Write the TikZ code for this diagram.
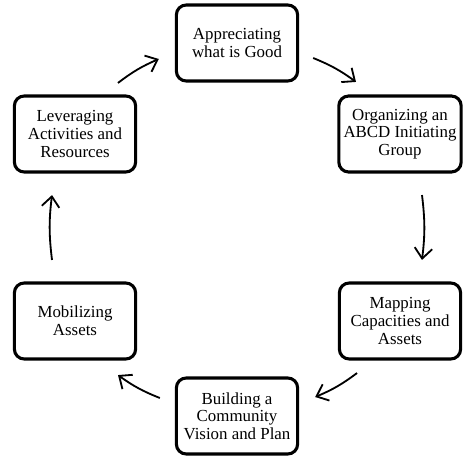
\documentclass[tikz,border=0pt]{standalone}
\usepackage{fontspec}
\setmainfont{Liberation Serif}
\usetikzlibrary{arrows.meta}
\tikzset{
	stage/.style={draw, line width=2.2pt, rounded corners=7pt, minimum width=3.03cm, minimum height=1.9cm, align=center, font=\fontsize{12}{12.6}\selectfont},
	cyc/.style={-{Straight Barb[length=2.6mm,width=4.4mm]}, line width=1.3pt, bend left=7}
}

\begin{document}
\begin{tikzpicture}[x=0.025cm, y=-0.025cm]

	\useasboundingbox (0,0) rectangle (474,467);

	\node[stage] (good) at (237,43) {Appreciating\\what is Good};
	\node[stage] (group) at (400,134) {Organizing an\\ABCD Initiating\\Group};
	\node[stage] (map) at (400,321) {Mapping\\Capacities and\\Assets};
	\node[stage] (vision) at (237,416) {Building a\\Community\\Vision and Plan};
	\node[stage] (mobil) at (75,321) {Mobilizing\\Assets};
	\node[stage] (lever) at (75,134) {Leveraging\\Activities and\\Resources};

	\draw [cyc] ([shift={(14,15)}]good.east) to ([shift={(-44,-12.5)}]group.north);
	\draw [cyc] ([shift={(22,21.5)}]group.south) to ([shift={(22,-21.5)}]map.north);
	\draw [cyc] ([shift={(-43,12.5)}]map.south) to ([shift={(16,-19)}]vision.east);
	\draw [cyc] ([shift={(-15,-18)}]vision.west) to ([shift={(43,14.5)}]mobil.south);
	\draw [cyc] ([shift={(-23,-21.5)}]mobil.north) to ([shift={(-23,21.5)}]lever.south);
	\draw [cyc] ([shift={(43,-11.5)}]lever.north) to ([shift={(-16,16)}]good.west);

\end{tikzpicture}
\end{document}
